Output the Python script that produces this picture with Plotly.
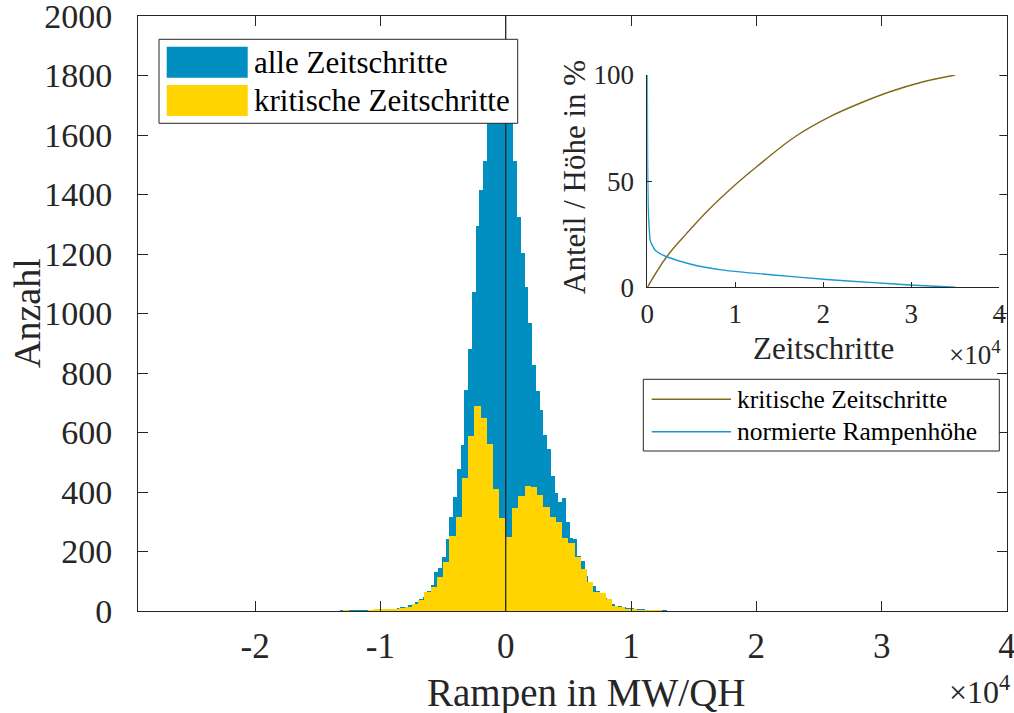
import plotly.graph_objects as go

# ---------------- data ----------------
# histogram "alle Zeitschritte": bins of width 300 starting at -13200
blue_start = -13200
blue_width = 300
blue_counts = [1, 2, 1, 1, 1, 1, 1, 2, 2, 3, 3, 4, 5, 6, 8, 10, 12, 15, 20, 23,
               31, 39, 48, 67, 87, 132, 146, 183, 241, 317, 382, 477, 557, 743, 880,
               1073, 1294, 1415, 1512, 1690, 1790, 1870, 1920, 1900, 1800, 1690,
               1512, 1325, 1203, 1090, 968, 827, 740, 676, 592, 543, 454, 398, 365,
               380, 300, 246, 242, 185, 168, 118, 98, 84, 66, 55, 43, 30, 23, 18,
               17, 12, 9, 9, 6, 5, 4, 3, 2, 2, 1, 2, 1]

# histogram "kritische Zeitschritte": bins of width 500 starting at -13000
yellow_start = -13000
yellow_width = 500
yellow_counts = [3, 0, 0, 0, 1, 7, 4, 6, 7, 9, 15, 24, 37, 65, 82, 115, 166, 252,
                 317, 447, 589, 689, 648, 561, 410, 312, 250, 347, 387, 421, 418,
                 390, 350, 317, 298, 244, 227, 182, 141, 98, 65, 59, 40, 18, 12, 6,
                 5, 3, 2, 1, 2]

# inset curves
inset_x_crit = [0, 2200, 4477, 6750, 9966, 12430, 16780, 20760, 24170, 27580, 31360, 34970]
inset_y_crit = [0, 14.4, 25.4, 35.6, 48.2, 56.8, 70.9, 80.4, 86.7, 92.1, 96.8, 100]
inset_x_ramp = [0, 30, 100, 200, 340, 875, 1400, 2200, 4850, 8640, 14320, 20000, 25680, 29850, 35000]
inset_y_ramp = [100, 60, 38, 29, 22, 17.6, 16, 14.4, 11, 8.1, 5.8, 3.8, 2.2, 1.1, 0]

main_xticks = [-20000, -10000, 0, 10000, 20000, 30000, 40000]
main_xticklabels = ["-2", "-1", "0", "1", "2", "3", "4"]
main_yticks = list(range(0, 2001, 200))
inset_xticks = [0, 10000, 20000, 30000, 40000]
inset_xticklabels = ["0", "1", "2", "3", "4"]
inset_yticks = [0, 50, 100]

names = ["alle Zeitschritte", "kritische Zeitschritte"]
inset_names = ["kritische Zeitschritte", "normierte Rampenhöhe"]

BLUE = "#008FC0"
YELLOW = "#FFD400"
OLIVE = "#80691A"
LBLUE = "#1B98CF"
AX = "#262626"
FONT = "Liberation Serif, Times New Roman, serif"

blue_x = [blue_start + blue_width * (i + 0.5) for i in range(len(blue_counts))]
yellow_x = [yellow_start + yellow_width * (i + 0.5) for i in range(len(yellow_counts))]

fig = go.Figure()
fig.add_trace(go.Bar(x=blue_x, y=blue_counts, width=blue_width, name=names[0],
                     marker=dict(color=BLUE, line=dict(width=0)), showlegend=False))
fig.add_trace(go.Bar(x=yellow_x, y=yellow_counts, width=yellow_width, name=names[1],
                     marker=dict(color=YELLOW, line=dict(width=0)), showlegend=False))
fig.add_trace(go.Scatter(x=[0, 0], y=[0, 2000], mode="lines",
                         line=dict(color=AX, width=1.3), showlegend=False, hoverinfo="skip"))
fig.add_trace(go.Scatter(x=inset_x_crit, y=inset_y_crit, mode="lines", name=inset_names[0],
                         line=dict(color=OLIVE, width=1.4, shape="spline"),
                         xaxis="x2", yaxis="y2", showlegend=False))
fig.add_trace(go.Scatter(x=inset_x_ramp, y=inset_y_ramp, mode="lines", name=inset_names[1],
                         line=dict(color=LBLUE, width=1.4, shape="spline", smoothing=0.6),
                         xaxis="x2", yaxis="y2", showlegend=False))

W, H = 1014, 713
def px(x):
    return x / W
def py(y):
    return 1 - y / H

main_dom_x = [px(138), px(1007)]
main_dom_y = [py(611), py(16)]
ins_dom_x = [px(647.3), px(999.3)]
ins_dom_y = [py(287.3), py(75)]

common = dict(showline=True, linecolor=AX, linewidth=1, showgrid=False, zeroline=False,
              ticks="inside", tickcolor=AX, automargin=False, ticklabeloverflow="allow")

fig.update_layout(
    width=W, height=H, margin=dict(l=0, r=0, t=0, b=0, autoexpand=False),
    paper_bgcolor="white", plot_bgcolor="white",
    barmode="overlay", bargap=0,
    font=dict(family=FONT, color=AX),
    xaxis=dict(domain=main_dom_x, range=[-29340, 40000], tickvals=main_xticks,
               ticktext=main_xticklabels, ticklen=10, mirror="ticks",
               tickfont=dict(size=35, family=FONT), ticklabelstandoff=4, anchor="y", **common),
    yaxis=dict(domain=main_dom_y, range=[0, 2000], tickvals=main_yticks,
               ticklen=10, mirror="ticks",
               tickfont=dict(size=34, family=FONT), ticklabelstandoff=18, anchor="x", **common),
    xaxis2=dict(domain=ins_dom_x, range=[0, 40000], tickvals=inset_xticks,
                ticktext=inset_xticklabels, ticklen=5,
                tickfont=dict(size=27, family=FONT), ticklabelstandoff=2, anchor="y2", **common),
    yaxis2=dict(domain=ins_dom_y, range=[0, 100], tickvals=inset_yticks, ticklen=5,
                tickfont=dict(size=27, family=FONT), ticklabelstandoff=7, anchor="x2", **common),
)

shapes = []
ann = []
# main legend
shapes.append(dict(type="rect", xref="paper", yref="paper", x0=px(159), x1=px(517.7),
                   y0=py(123.3), y1=py(39.3), fillcolor="white", line=dict(color=AX, width=1),
                   layer="above"))
for i, (c, yc) in enumerate([(BLUE, 62.2), (YELLOW, 100.4)]):
    shapes.append(dict(type="rect", xref="paper", yref="paper", x0=px(166.7), x1=px(247.7),
                       y0=py(yc + 15.5), y1=py(yc - 15.5), fillcolor=c, line=dict(width=0),
                       layer="above"))
    ann.append(dict(xref="paper", yref="paper", x=px(252), y=py(yc), text=names[i],
                    showarrow=False, xanchor="left", yanchor="middle",
                    font=dict(size=31, family=FONT, color="black")))
# inset legend
shapes.append(dict(type="rect", xref="paper", yref="paper", x0=px(643.3), x1=px(999.3),
                   y0=py(451), y1=py(379.3), fillcolor="white", line=dict(color=AX, width=1),
                   layer="above"))
for i, (c, yc) in enumerate([(OLIVE, 399.3), (LBLUE, 431.7)]):
    shapes.append(dict(type="line", xref="paper", yref="paper", x0=px(651.7), x1=px(731),
                       y0=py(yc), y1=py(yc), line=dict(color=c, width=1.4), layer="above"))
    ann.append(dict(xref="paper", yref="paper", x=px(735), y=py(yc), text=inset_names[i],
                    showarrow=False, xanchor="left", yanchor="middle",
                    font=dict(size=25.5, family=FONT, color="black")))

# axis titles and exponents
ann.append(dict(xref="paper", yref="paper", x=px(586), y=py(693), text="Rampen in MW/QH",
                showarrow=False, xanchor="center", yanchor="middle",
                font=dict(size=39, family=FONT)))
ann.append(dict(xref="paper", yref="paper", x=px(27), y=py(313), text="Anzahl",
                showarrow=False, textangle=-90, xanchor="center", yanchor="middle",
                font=dict(size=38, family=FONT)))
ann.append(dict(xref="paper", yref="paper", x=px(1012), y=py(690), text="×10<sup>4</sup>",
                showarrow=False, xanchor="right", yanchor="middle",
                font=dict(size=32, family=FONT)))
ann.append(dict(xref="paper", yref="paper", x=px(823), y=py(348), text="Zeitschritte",
                showarrow=False, xanchor="center", yanchor="middle",
                font=dict(size=31, family=FONT)))
ann.append(dict(xref="paper", yref="paper", x=px(574), y=py(177), text="Anteil / Höhe in %",
                showarrow=False, textangle=-90, xanchor="center", yanchor="middle",
                font=dict(size=31, family=FONT)))
ann.append(dict(xref="paper", yref="paper", x=px(1003), y=py(353), text="×10<sup>4</sup>",
                showarrow=False, xanchor="right", yanchor="middle",
                font=dict(size=27, family=FONT)))

fig.update_layout(shapes=shapes, annotations=ann)
fig.write_html("out.html")
